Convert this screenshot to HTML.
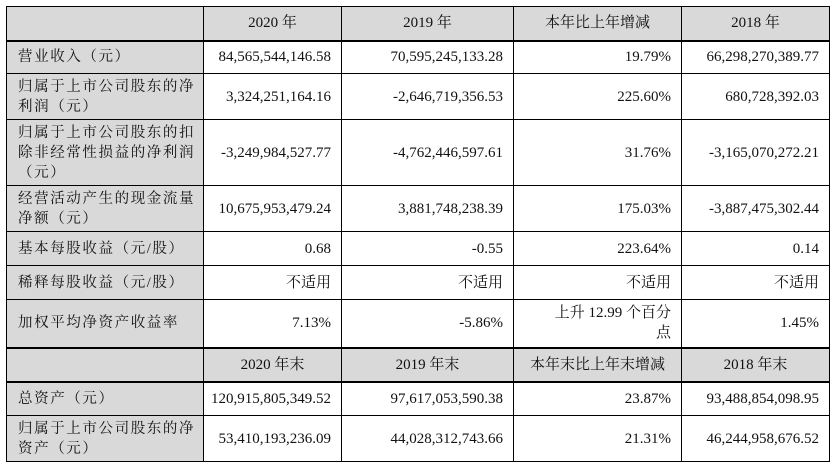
<!DOCTYPE html>
<html><head><meta charset="utf-8"><style>
html,body{margin:0;padding:0;background:#fff;width:832px;height:468px;overflow:hidden}
table{position:absolute;left:6px;top:6px;border-collapse:collapse;table-layout:fixed;width:823px}
td{border:1.5px solid #000;padding:0 10px 0 0;text-align:right;vertical-align:middle;
font-family:"Liberation Serif","Noto Serif CJK SC",serif;font-size:15px;color:#111;line-height:20px}
td.l{background:#d9d9d9;text-align:left;padding:0 0 0 11px;letter-spacing:1.6px;font-size:14.5px}
tr.h td{background:#d9d9d9;text-align:center;padding:0}
tr.h td{border-bottom:2.5px solid #000}
tr.thick td{border-bottom:2.5px solid #000}
</style></head><body>
<table>
<colgroup><col style="width:197px"><col style="width:138px"><col style="width:172px"><col style="width:168px"><col style="width:148px"></colgroup>
<tr class="h" style="height:34px"><td></td><td>2020 年</td><td>2019 年</td><td>本年比上年增减</td><td>2018 年</td></tr>
<tr style="height:33px"><td class="l">营业收入（元）</td><td>84,565,544,146.58</td><td>70,595,245,133.28</td><td>19.79%</td><td>66,298,270,389.77</td></tr>
<tr style="height:46px"><td class="l">归属于上市公司股东的净利润（元）</td><td>3,324,251,164.16</td><td>-2,646,719,356.53</td><td>225.60%</td><td>680,728,392.03</td></tr>
<tr style="height:66px"><td class="l">归属于上市公司股东的扣除非经常性损益的净利润（元）</td><td>-3,249,984,527.77</td><td>-4,762,446,597.61</td><td>31.76%</td><td>-3,165,070,272.21</td></tr>
<tr style="height:46px"><td class="l">经营活动产生的现金流量净额（元）</td><td>10,675,953,479.24</td><td>3,881,748,238.39</td><td>175.03%</td><td>-3,887,475,302.44</td></tr>
<tr style="height:34px"><td class="l">基本每股收益（元/股）</td><td>0.68</td><td>-0.55</td><td>223.64%</td><td>0.14</td></tr>
<tr style="height:34px"><td class="l">稀释每股收益（元/股）</td><td>不适用</td><td>不适用</td><td>不适用</td><td>不适用</td></tr>
<tr class="thick" style="height:48px"><td class="l">加权平均净资产收益率</td><td>7.13%</td><td>-5.86%</td><td>上升 12.99 个百分<br>点</td><td>1.45%</td></tr>
<tr class="h" style="height:34px"><td></td><td>2020 年末</td><td>2019 年末</td><td>本年末比上年末增减</td><td>2018 年末</td></tr>
<tr style="height:34px"><td class="l">总资产（元）</td><td>120,915,805,349.52</td><td>97,617,053,590.38</td><td>23.87%</td><td>93,488,854,098.95</td></tr>
<tr style="height:46px"><td class="l">归属于上市公司股东的净资产（元）</td><td>53,410,193,236.09</td><td>44,028,312,743.66</td><td>21.31%</td><td>46,244,958,676.52</td></tr>
</table>
</body></html>
